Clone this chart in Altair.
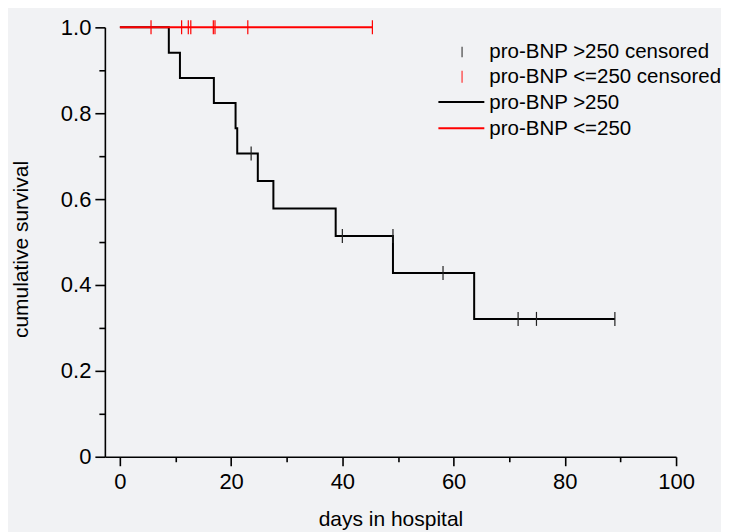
import altair as alt
import pandas as pd

# ---------------- data ----------------
hi_times = [0, 8.8, 10.8, 16.9, 20.8, 21.1, 24.8, 27.6, 38.8, 49.1, 63.7, 89.0]
hi_surv = [1.0, 0.941, 0.882, 0.824, 0.765, 0.706, 0.642, 0.578, 0.514, 0.428, 0.321, 0.321]

hi_cens_times = [23.6, 40.0, 49.1, 58.1, 71.6, 74.9, 89.0]
hi_cens_surv = [0.706, 0.514, 0.514, 0.428, 0.321, 0.321, 0.321]

lo_times = [0, 45.4]
lo_surv = [1.0, 1.0]

lo_cens_times = [5.6, 11.1, 12.3, 12.75, 16.8, 17.1, 23.0, 45.4]
lo_cens_surv = [1.0, 1.0, 1.0, 1.0, 1.0, 1.0, 1.0, 1.0]

legend_labels = ["pro-BNP >250 censored", "pro-BNP <=250 censored", "pro-BNP >250", "pro-BNP <=250"]

x_ticks = [0, 10, 20, 30, 40, 50, 60, 70, 80, 90, 100]
y_ticks = [0, 0.1, 0.2, 0.3, 0.4, 0.5, 0.6, 0.7, 0.8, 0.9, 1.0]

# ---------------- tables ----------------
hi_df = pd.DataFrame({"t": hi_times, "s": hi_surv})
lo_df = pd.DataFrame({"t": lo_times, "s": lo_surv})
hi_c_df = pd.DataFrame({"t": hi_cens_times, "s": hi_cens_surv})
lo_c_df = pd.DataFrame({"t": lo_cens_times, "s": lo_cens_surv})

FONT = "Liberation Sans, Arial, sans-serif"

xscale = alt.Scale(domain=[-2.7, 100], nice=False, zero=False)
yscale = alt.Scale(domain=[0, 1], nice=False, zero=False)

x_axis = alt.Axis(
    values=x_ticks,
    format="d",
    labelExpr="datum.value % 20 == 0 ? datum.label : ''",
    labelFlush=False,
    title="days in hospital",
    titleFont=FONT, titleFontSize=21, titleFontWeight="normal", titleColor="black",
    titleBaseline="alphabetic", titleY=69,
    labelFont=FONT, labelFontSize=22, labelColor="black", labelPadding=6,
    grid=False, domainColor="black", domainWidth=1.6,
    tickColor="black", tickWidth=1.6,
    tickSize={"condition": {"test": "datum.value % 20 == 0", "value": 9}, "value": 5},
)

y_axis = alt.Axis(
    values=y_ticks,
    labelExpr="round(datum.value*10) % 2 == 0 ? (datum.value == 0 ? '0' : format(datum.value, '.1f')) : ''",
    labelFlush=False,
    title="cumulative survival",
    titleFont=FONT, titleFontSize=21, titleFontWeight="normal", titleColor="black",
    titleBaseline="middle", titleAlign="center", titleAngle=270, titleX=-83, titleY=222,
    labelFont=FONT, labelFontSize=22, labelColor="black", labelPadding=4,
    grid=False, domainColor="black", domainWidth=1.6,
    tickColor="black", tickWidth=1.6,
    tickSize={"condition": {"test": "round(datum.value*10) % 2 == 0", "value": 10}, "value": 6},
)

hi_line = alt.Chart(hi_df).mark_line(interpolate="step-after", color="black", strokeWidth=2).encode(
    x=alt.X("t:Q", scale=xscale, axis=x_axis),
    y=alt.Y("s:Q", scale=yscale, axis=y_axis),
)

lo_line = alt.Chart(lo_df).mark_line(interpolate="step-after", color="#ff0000", strokeWidth=2).encode(
    x=alt.X("t:Q", scale=xscale),
    y=alt.Y("s:Q", scale=yscale),
)

TICK = "M0,-1L0,1"
hi_cens = alt.Chart(hi_c_df).mark_point(shape=TICK, size=196, filled=False, color="#222222",
                                        strokeWidth=1.2, opacity=1).encode(
    x=alt.X("t:Q", scale=xscale),
    y=alt.Y("s:Q", scale=yscale),
)
lo_cens = alt.Chart(lo_c_df).mark_point(shape=TICK, size=196, filled=False, color="#ff0000",
                                        strokeWidth=1.2, opacity=1).encode(
    x=alt.X("t:Q", scale=xscale),
    y=alt.Y("s:Q", scale=yscale),
)

# ---------------- manual legend ----------------
one = pd.DataFrame({"k": [0]})
legend_layers = []
text_y = [30.5, 56.2, 81.9, 107.6]
for lab, ty in zip(legend_labels, text_y):
    legend_layers.append(
        alt.Chart(pd.DataFrame({"lab": [lab]})).mark_text(
            align="left", baseline="alphabetic", font=FONT, fontSize=20.5, color="black"
        ).encode(text="lab:N", x=alt.value(385), y=alt.value(ty))
    )
legend_layers.append(alt.Chart(one).mark_rule(color="#444444", strokeWidth=1.2).encode(
    x=alt.value(357.7), y=alt.value(19.5), y2=alt.value(30)))
legend_layers.append(alt.Chart(one).mark_rule(color="#ff3333", strokeWidth=1.2).encode(
    x=alt.value(357.7), y=alt.value(43.5), y2=alt.value(55.5)))
legend_layers.append(alt.Chart(one).mark_rule(color="black", strokeWidth=2).encode(
    x=alt.value(334), x2=alt.value(380), y=alt.value(74.7)))
legend_layers.append(alt.Chart(one).mark_rule(color="#ff0000", strokeWidth=2).encode(
    x=alt.value(334), x2=alt.value(380), y=alt.value(101)))

chart = alt.layer(hi_line, lo_line, hi_cens, lo_cens, *legend_layers).properties(
    width=572, height=430,
    autosize=alt.AutoSizeParams(type="none"),
    padding={"left": 97, "top": 19, "right": 45, "bottom": 77},
    background="#f1f2f4",
).configure_view(stroke=None)

chart.save("out.html", embed_options={"renderer": "svg", "actions": False})
